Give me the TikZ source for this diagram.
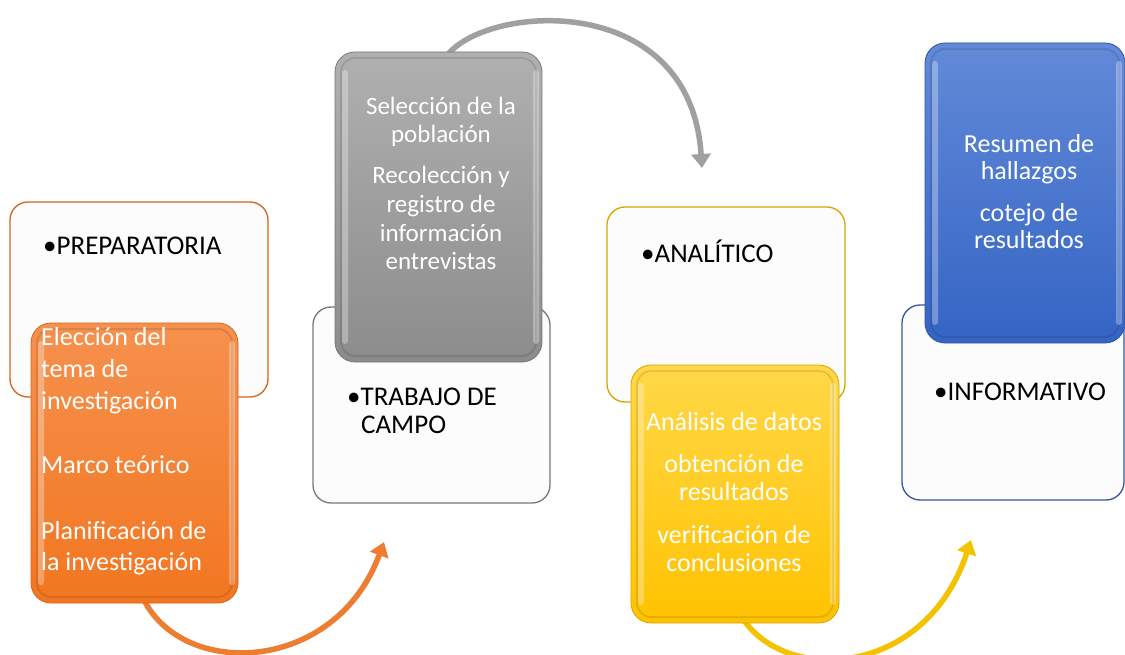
\documentclass[tikz,border=0pt]{standalone}
\usepackage{fontspec}
\setmainfont{Carlito}
\usetikzlibrary{arrows.meta}
\definecolor{boxwhite}{RGB}{252,252,252}
\definecolor{orA}{RGB}{246,145,78}
\definecolor{orB}{RGB}{242,118,32}
\definecolor{orD}{RGB}{214,100,30}
\definecolor{grA}{RGB}{176,176,176}
\definecolor{grB}{RGB}{140,140,140}
\definecolor{grD}{RGB}{120,120,120}
\definecolor{yeA}{RGB}{255,216,72}
\definecolor{yeB}{RGB}{255,194,0}
\definecolor{yeD}{RGB}{214,166,0}
\definecolor{blA}{RGB}{98,138,216}
\definecolor{blB}{RGB}{52,100,196}
\definecolor{blD}{RGB}{50,86,160}
\definecolor{arrOr}{RGB}{237,125,49}
\definecolor{arrGr}{RGB}{160,160,160}
\definecolor{arrYe}{RGB}{244,194,0}
\tikzset{
  whitebox/.style={draw=#1, line width=1.3pt, fill=boxwhite, rounded corners=18pt, inner sep=0pt, outer sep=0pt},
  colbox/.style n args={3}{rounded corners=20pt, top color=#1, bottom color=#2, draw=#3, line width=0.8pt, inner sep=0pt, outer sep=0pt},
  bevel/.style={draw=black, draw opacity=0.10, line width=2pt, rounded corners=14pt},
  shine/.style={fill=white, fill opacity=0.30, rounded corners=3pt},
  wtxt/.style={text=white, font=\fontsize{26}{31}\selectfont, inner sep=0pt, anchor=base},
  gtxt/.style={text=white, font=\fontsize{25}{30}\selectfont, inner sep=0pt, anchor=base},
  wltxt/.style={text=white, font=\fontsize{26}{31}\selectfont, inner sep=0pt, anchor=base west},
  btxt/.style={text=black, font=\fontsize{27}{32}\selectfont, inner sep=0pt, anchor=base west},
  flow/.style={draw=#1, line width=5.5pt, -{Triangle[width=19pt,length=14pt]}}
}
\begin{document}
\begin{tikzpicture}[x=1pt,y=-1pt]
\useasboundingbox (0,0) rectangle (1125,655);
\fill[white] (0,0) rectangle (1125,655);

% connector end points
\coordinate (a1s) at (142,596);
\coordinate (a1e) at (384,542);
\coordinate (a2s) at (444,60);
\coordinate (a2e) at (702,168);
\coordinate (a3s) at (740,614);
\coordinate (a3e) at (971,540);

% curved arrows (behind boxes)
\draw[flow=arrOr] (a1s) .. controls (180,680) and (335,675) .. (a1e);
\draw[flow=arrGr] (a2s) .. controls (475,5) and (690,-15) .. (a2e);
\draw[flow=arrYe] (a3s) .. controls (780,685) and (925,680) .. (a3e);

% white boxes
\node[whitebox=orD, minimum width=258pt, minimum height=195pt] (w1) at (139,299.5) {};
\node[whitebox=grD, minimum width=237pt, minimum height=196pt] (w2) at (431.5,405) {};
\node[whitebox=yeD, minimum width=238pt, minimum height=195pt] (w3) at (726,304.5) {};
\node[whitebox=blD, minimum width=222pt, minimum height=195pt] (w4) at (1013,402.5) {};

% black labels
\node[btxt] (t1) at (43,255) {•PREPARATORIA};
\node[btxt] (t2) at (347,405) {•TRABAJO DE};
\node[btxt] (t2b) at (361,433) {CAMPO};
\node[btxt] (t3) at (641,262) {•ANALÍTICO};
\node[btxt] (t4) at (934,400) {•INFORMATIVO};

% coloured boxes
\node[colbox={orA}{orB}{orD}, minimum width=207pt, minimum height=280pt] (o) at (134.5,463) {};
\draw[bevel] ([shift={(6pt,-6pt)}]o.north west) rectangle ([shift={(-6pt,6pt)}]o.south east);
\fill[shine] ([shift={(7pt,-18pt)}]o.north west) rectangle ([shift={(13pt,18pt)}]o.south west);
\fill[shine] ([shift={(-9pt,-18pt)}]o.north east) rectangle ([shift={(-3pt,18pt)}]o.south east);
\node[colbox={grA}{grB}{grD}, minimum width=207pt, minimum height=310pt] (g) at (438.5,207) {};
\draw[bevel] ([shift={(6pt,-6pt)}]g.north west) rectangle ([shift={(-6pt,6pt)}]g.south east);
\fill[shine] ([shift={(7pt,-18pt)}]g.north west) rectangle ([shift={(13pt,18pt)}]g.south west);
\fill[shine] ([shift={(-9pt,-18pt)}]g.north east) rectangle ([shift={(-3pt,18pt)}]g.south east);
\node[colbox={yeA}{yeB}{yeD}, minimum width=208pt, minimum height=258pt] (y) at (735,494) {};
\draw[bevel] ([shift={(6pt,-6pt)}]y.north west) rectangle ([shift={(-6pt,6pt)}]y.south east);
\fill[shine] ([shift={(7pt,-18pt)}]y.north west) rectangle ([shift={(13pt,18pt)}]y.south west);
\fill[shine] ([shift={(-9pt,-18pt)}]y.north east) rectangle ([shift={(-3pt,18pt)}]y.south east);
\node[colbox={blA}{blB}{blD}, minimum width=200pt, minimum height=300pt] (b) at (1025,193) {};
\draw[bevel] ([shift={(6pt,-6pt)}]b.north west) rectangle ([shift={(-6pt,6pt)}]b.south east);
\fill[shine] ([shift={(7pt,-18pt)}]b.north west) rectangle ([shift={(13pt,18pt)}]b.south west);
\fill[shine] ([shift={(-9pt,-18pt)}]b.north east) rectangle ([shift={(-3pt,18pt)}]b.south east);

% orange text
\node[wltxt] (o1) at (41,345) {Elección del};
\node[wltxt] (o2) at (41,377) {tema de};
\node[wltxt] (o3) at (41,409) {investigación};
\node[wltxt] (o4) at (41,473) {Marco teórico};
\node[wltxt] (o5) at (41,539) {Planificación de};
\node[wltxt] (o6) at (41,570) {la investigación};

% grey text
\node[gtxt] (g1) at (441,115) {Selección de la};
\node[gtxt] (g2) at (441,143) {población};
\node[gtxt] (g3) at (441,184) {Recolección y};
\node[gtxt] (g4) at (441,213) {registro de};
\node[gtxt] (g5) at (441,242) {información};
\node[gtxt] (g6) at (441,270) {entrevistas};

% yellow text
\node[wtxt] (y1) at (734,430) {Análisis de datos};
\node[wtxt] (y2) at (734,472) {obtención de};
\node[wtxt] (y3) at (734,500) {resultados};
\node[wtxt] (y4) at (734,543) {verificación de};
\node[wtxt] (y5) at (734,571) {conclusiones};

% blue text
\node[wtxt] (b1) at (1029,153) {Resumen de};
\node[wtxt] (b2) at (1029,180) {hallazgos};
\node[wtxt] (b3) at (1029,222) {cotejo de};
\node[wtxt] (b4) at (1029,249) {resultados};
\end{tikzpicture}
\end{document}
